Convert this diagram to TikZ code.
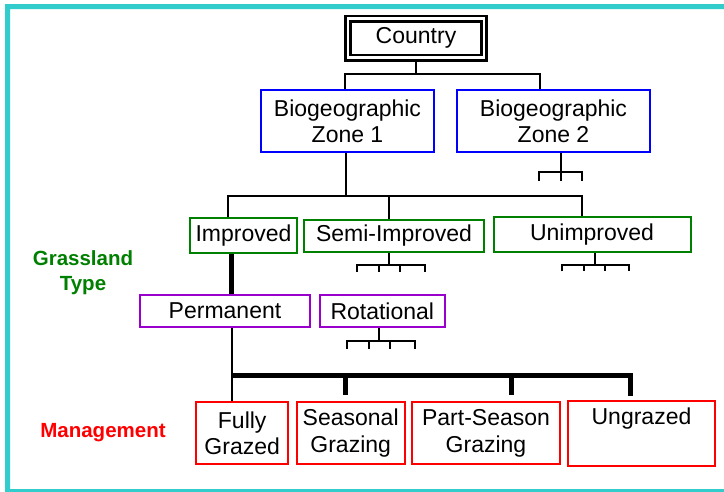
\documentclass[tikz,border=0pt]{standalone}
\usepackage{fontspec}
\setmainfont{Liberation Sans}
\usepackage{tikz}
\usetikzlibrary{positioning,calc}
\definecolor{frameteal}{RGB}{51,204,204}
\definecolor{zoneblue}{RGB}{0,0,255}
\definecolor{typegreen}{RGB}{0,128,0}
\definecolor{usepurple}{RGB}{153,0,204}
\definecolor{mgmtred}{RGB}{255,0,0}

\begin{document}
\begin{tikzpicture}[x=1pt,y=-1pt,
    box/.style={draw,rectangle,line width=2pt,inner sep=0pt,align=center,
        font=\fontsize{23}{26.5}\selectfont},
    countrybox/.style={box,line width=2.7pt,double,double distance=2.6pt,
        minimum width=136pt,minimum height=39pt},
    zonebox/.style={box,draw=zoneblue,minimum height=62pt},
    typebox/.style={box,draw=typegreen},
    periodbox/.style={box,draw=usepurple,minimum height=32pt},
    mgmtbox/.style={box,draw=mgmtred,minimum height=62pt},
    sidelabel/.style={align=center,font=\bfseries\fontsize{20.5}{25}\selectfont},
    link/.style={line width=2pt},
    bus/.style={line width=5pt}]
    \fill[white] (0,0) rectangle (724,492);

    % Frame (open on the right)
    \fill[frameteal] (724,4.2) -- (5,4.2) -- (5,492) -- (724,492) -- (724,489)
        -- (10,489) -- (10,9.2) -- (724,9.2) -- cycle;

    % Country
    \node[countrybox] (country) at (416,38.2) {Country};

    % Biogeographic zones
    \node[zonebox,minimum width=173pt] (zone1) at (347.5,121.3) {Biogeographic\\Zone 1};
    \node[zonebox,minimum width=193pt] (zone2) at (553.5,121.3) {Biogeographic\\Zone 2};

    \draw[link] (country.south) -- ++(0,15) coordinate (cbus);
    \draw[link] ([xshift=-2.5pt]zone1.north) |- (cbus) -| ([xshift=-14pt]zone2.north);

    % Zone 2 subtree
    \draw[link] ([xshift=7pt]zone2.south) -- ++(0,18.4) coordinate (zonefork);
    \draw[link] ($(zonefork)+(-22,9)$) |- ($(zonefork)+(21,0)$) -- ++(0,9);
    \draw[link] ([xshift=7pt]zone2.south) -- ($(zonefork)+(0,9)$);

    % Grassland types
    \node[typebox,minimum width=107pt,minimum height=35pt] (improved) at (243.5,235.3) {Improved};
    \node[typebox,minimum width=180pt,minimum height=32pt] (semi) at (394,235.8) {Semi-Improved};
    \node[typebox,minimum width=197pt,minimum height=35pt] (unimproved) at (592,235) {Unimproved};

    \draw[link] ([xshift=-1.8pt]zone1.south) -- ++(0,42.7) coordinate (gbus);
    \draw[link] ([xshift=-15.5pt]improved.north) |- (gbus) -| ([xshift=-10.3pt]unimproved.north);
    \draw[link] ([xshift=-5pt]semi.north) |- (gbus);

    % Semi-Improved subtree
    \draw[link] ([xshift=-5pt]semi.south) -- ++(0,12.3) coordinate (semifork);
    \draw[link] ($(semifork)+(-32,6.7)$) |- ($(semifork)+(36,0)$) -- ++(0,6.7);
    \foreach \dx in {-10,11}
        \draw[link] ($(semifork)+(\dx,0)$) -- ++(0,6.7);

    % Unimproved subtree
    \draw[link] ([xshift=3pt]unimproved.south) -- ++(0,11.3) coordinate (unimpfork);
    \draw[link] ($(unimpfork)+(-33,6.5)$) |- ($(unimpfork)+(34,0)$) -- ++(0,6.5);
    \foreach \dx in {-11,10}
        \draw[link] ($(unimpfork)+(\dx,0)$) -- ++(0,6.5);

    % Grazing period
    \node[periodbox,minimum width=170pt] (permanent) at (225,311) {Permanent};
    \node[periodbox,minimum width=125pt] (rotational) at (382.3,311) {Rotational};

    \draw[bus] ([xshift=-11.8pt]improved.south) -- ([xshift=-11.8pt]improved.south |- permanent.north);

    % Rotational subtree
    \draw[link] ([xshift=-3pt]rotational.south) -- ++(0,13) coordinate (rotfork);
    \draw[link] ($(rotfork)+(-32,7.6)$) |- ($(rotfork)+(36,0)$) -- ++(0,7.6);
    \foreach \dx in {-10,11}
        \draw[link] ($(rotfork)+(\dx,0)$) -- ++(0,7.6);

    % Management
    \node[mgmtbox,minimum width=91.5pt] (fully) at (242.2,433.2) {Fully\\Grazed};
    \node[mgmtbox,minimum width=108.4pt] (seasonal) at (350.7,433.2) {Seasonal\\Grazing};
    \node[mgmtbox,minimum width=148pt] (partseason) at (486,433.2) {Part-Season\\Grazing};
    \node[mgmtbox,minimum width=147pt,minimum height=65pt] (ungrazed) at (641.5,433.4) {Ungrazed\\\strut};

    \draw[link] ([xshift=6.7pt]permanent.south) -- ([xshift=6.7pt]permanent.south |- fully.north);
    \path ([xshift=6.7pt]permanent.south) ++(0,47.8) coordinate (mbus);
    \draw[bus] (mbus) -| ($(ungrazed.north)+(-11.5,-3.5)$);
    \draw[bus] ($(seasonal.north |- mbus)+(-5,0)$) -- ++(0,19);
    \draw[bus] ($(partseason.north |- mbus)+(25.7,0)$) -- ++(0,19);

    % Level labels
    \node[sidelabel,text=typegreen] (typelabel) at (83,272.5) {Grassland\\Type};
    \node[sidelabel,text=mgmtred] (mgmtlabel) at (103,433) {Management};
\end{tikzpicture}
\end{document}
